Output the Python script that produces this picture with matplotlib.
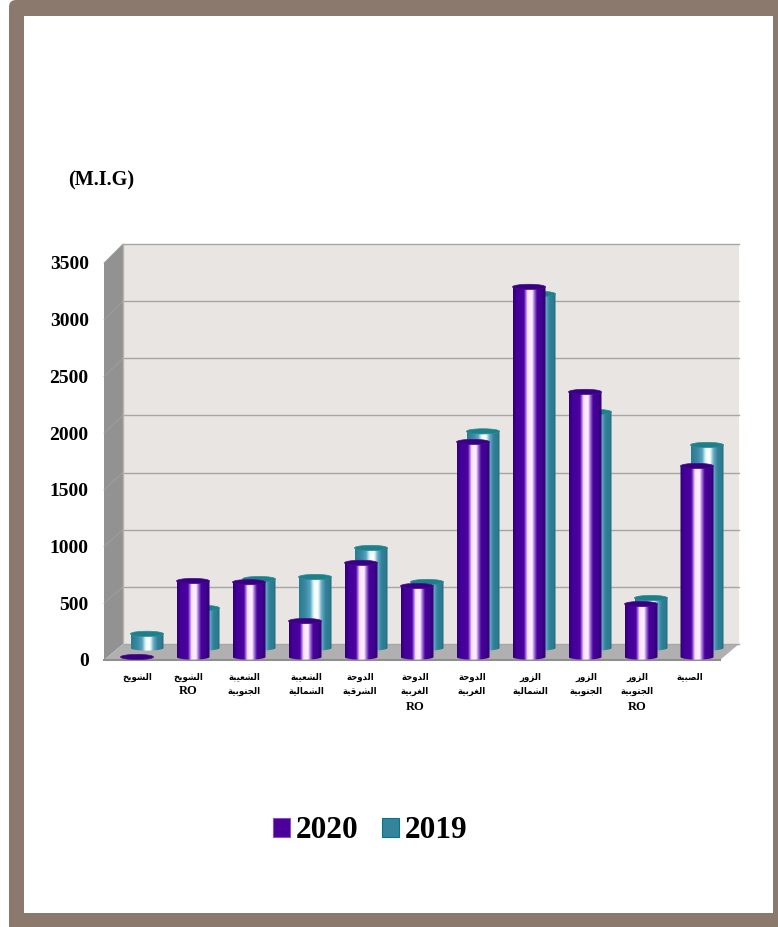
import numpy as np
import matplotlib
matplotlib.use("Agg")
import matplotlib.pyplot as plt
from matplotlib.colors import LinearSegmentedColormap
from matplotlib.patches import Ellipse, FancyBboxPatch, PathPatch, Patch, Polygon, Rectangle
from matplotlib.path import Path

plt.rcParams["font.family"] = ["Liberation Serif", "DejaVu Sans"]
plt.rcParams["font.weight"] = "bold"

# data
categories = ["الشويخ", "الشويخ\nRO", "الشعيبة\nالجنوبية", "الشعيبة\nالشمالية",
              "الدوحة\nالشرقية", "الدوحة\nالغربية\nRO", "الدوحة\nالغربية", "الزور\nالشمالية",
              "الزور\nالجنوبية", "الزور\nالجنوبية\nRO", "الصبية"]
values_2020 = [0, 670, 660, 317, 830, 626, 1896, 3263, 2337, 467, 1684]
values_2019 = [125, 353, 608, 626, 882, 582, 1910, 3122, 2081, 441, 1790]
y_ticks = [0, 500, 1000, 1500, 2000, 2500, 3000, 3500]

# letter: first presentation form, number of forms
FORMS = {"ا": (0xFE8D, 2), "ب": (0xFE8F, 4), "ة": (0xFE93, 2), "ج": (0xFE9D, 4), "ح": (0xFEA1, 4),
         "خ": (0xFEA5, 4), "د": (0xFEA9, 2), "ر": (0xFEAD, 2), "ز": (0xFEAF, 2), "ش": (0xFEB5, 4),
         "ص": (0xFEB9, 4), "ع": (0xFEC9, 4), "غ": (0xFECD, 4), "ق": (0xFED5, 4), "ل": (0xFEDD, 4),
         "م": (0xFEE1, 4), "ن": (0xFEE5, 4), "و": (0xFEED, 2), "ي": (0xFEF1, 4)}


def shape_line(line):
    if line[0] not in FORMS:
        return line
    out = []
    for i, ch in enumerate(line):
        code, n = FORMS[ch]
        joins_prev = i > 0 and FORMS[line[i - 1]][1] == 4
        joins_next = i < len(line) - 1 and n == 4
        if joins_prev and joins_next:
            out.append(chr(code + 3))
        elif joins_next:
            out.append(chr(code + 2))
        elif joins_prev:
            out.append(chr(code + 1))
        else:
            out.append(chr(code))
    return "".join(reversed(out))


W, H = 778, 927
PX_X = 1 / 56.0        # one pixel in category units
PX_Y = 3500 / 397.0    # one pixel in value units

cmap_2020 = LinearSegmentedColormap.from_list("p", [
    (0, "#2f0070"), (0.12, "#43009a"), (0.33, "#4c00a0"), (0.39, "#a070d8"), (0.44, "#f8e0ff"),
    (0.58, "#fff0ff"), (0.65, "#a070d8"), (0.73, "#4a009c"), (0.9, "#3e008c"), (1, "#2f0070")])
cmap_2019 = LinearSegmentedColormap.from_list("t", [
    (0, "#2a7a90"), (0.2, "#3b8aa5"), (0.34, "#5aa5bd"), (0.42, "#c0eaf5"), (0.48, "#ffffff"),
    (0.58, "#f5ffff"), (0.68, "#6aaec5"), (0.8, "#33829c"), (0.93, "#2b7a90"), (1, "#1f6a75")])
gradient = np.linspace(0, 1, 256).reshape(1, -1)

fig = plt.figure(figsize=(W / 100, H / 100), dpi=100)
fig.patch.set_facecolor("white")

# frame
fig.add_artist(FancyBboxPatch((9, -30), W + 40, H + 30, boxstyle="round,pad=0,rounding_size=7",
                              transform=None, facecolor="#8b796d", edgecolor="none"))
fig.add_artist(Rectangle((24, H - 913), 749, 897, transform=None, facecolor="white", edgecolor="none"))

ax = fig.add_axes([104 / W, 1 - 660 / H, 616 / W, 397 / H])
ax.patch.set_visible(False)
for s in ax.spines.values():
    s.set_visible(False)

x0, x1 = -0.5, 10.5
y_top = y_ticks[-1]
dx, dy = 19 * PX_X, 16 * PX_Y


def back(v):
    # back wall is drawn a bit taller than the axis itself
    return v * 400 / 397 + dy


# walls
ax.add_patch(Polygon([(x0 + dx, back(0)), (x1 + dx, back(0)), (x1 + dx, back(y_top)), (x0 + dx, back(y_top))],
                     facecolor="#e8e5e2", edgecolor="none", clip_on=False, zorder=1))
ax.add_patch(Polygon([(x0, 0), (x0, y_top), (x0 + dx, back(y_top)), (x0 + dx, back(0))],
                     facecolor="#929292", edgecolor="none", clip_on=False, zorder=1))
ax.add_patch(Polygon([(x0, 0), (x1, 0), (x1 + dx, back(0)), (x0 + dx, back(0))],
                     facecolor="#b0b0b0", edgecolor="none", clip_on=False, zorder=1))
ax.plot([x0, x1], [0, 0], color="#8f8f8f", lw=1.5, clip_on=False, zorder=1.5)
for t in y_ticks:
    ax.plot([x0 + dx, x1 + dx], [back(t), back(t)], color="#a8a6a3", lw=1.0, clip_on=False, zorder=1.5)
    if t > 0:
        ax.plot([x0, x0 + dx], [t, back(t)], color="#a0a0a0", lw=0.6, clip_on=False, zorder=1.5)
ax.plot([x0 + dx, x0 + dx], [back(0), back(y_top)], color="#b5b5b5", lw=1, clip_on=False, zorder=1.5)


def cylinder(x, base, value, cmap, top_color, edge_color, z):
    half = 16.5 * PX_X
    eh = 2.6 * PX_Y
    top = base + value
    t = np.linspace(np.pi, 2 * np.pi, 40)
    xs = np.concatenate([x + half * np.cos(t), [x + half, x - half, x - half]])
    ys = np.concatenate([base + eh * np.sin(t), [top, top, base]])
    if value > 0:
        clip = PathPatch(Path(np.column_stack([xs, ys]), closed=False), transform=ax.transData,
                         facecolor="none", edgecolor="none")
        ax.add_patch(clip)
        im = ax.imshow(gradient, cmap=cmap, extent=(x - half, x + half, base - eh, top),
                       aspect="auto", zorder=z, interpolation="bilinear")
        im.set_clip_path(clip)
        im.set_clip_box(fig.bbox)
    ax.add_patch(Ellipse((x, top), 2 * half, 2 * eh, facecolor=top_color, edgecolor=edge_color,
                         lw=0.5, zorder=z + 0.1, clip_on=False))


offset_2020 = 5 * PX_X
base_2020 = 3 * PX_Y
offset_2019 = 15 * PX_X
base_2019 = 12 * PX_Y
for i, v in enumerate(values_2019):
    cylinder(i + offset_2019, base_2019, v, cmap_2019, "#1f7f88", "#2a8c96", 2 + i * 0.01)
for i, v in enumerate(values_2020):
    cylinder(i + offset_2020, base_2020, v, cmap_2020, "#37007e", "#4a0a96", 3 + i * 0.01)

ax.set_xlim(x0, x1)
ax.set_ylim(0, y_top)
ax.set_yticks(y_ticks)
ax.set_yticklabels([str(t) for t in y_ticks], fontsize=14, fontweight="bold")
ax.set_xticks(range(len(categories)))
ax.set_xticklabels([])
ax.tick_params(axis="y", length=0, pad=11)
ax.tick_params(axis="x", length=0)
ax.set_zorder(2)

# category labels, latin lines are set bigger than the arabic ones
label_nudge = [5, 0, 0, 6, 4, 3, 4, 6, 6, 1, -2]
line_y = [677, 691, 707]
for i, label in enumerate(categories):
    for row, line in enumerate(label.split("\n")):
        ax.annotate(shape_line(line), xy=(i, 0), xycoords=("data", "axes fraction"),
                    xytext=(label_nudge[i] * 0.72, -(line_y[row] - 660) * 0.72), textcoords="offset points",
                    ha="center", va="center", fontsize=6.2 if line[0] in FORMS else 9, fontweight="bold",
                    annotation_clip=False)

fig.text(68 / W, 1 - 180 / H, "(M.I.G)", fontsize=14.6, fontweight="bold", va="center", ha="left")

handles = [Patch(facecolor="#4b0099", edgecolor="#8a50c8", lw=0.8, label="2020"),
           Patch(facecolor="#33849c", edgecolor="#007a80", lw=0.8, label="2019")]
fig.legend(handles=handles, loc="center", bbox_to_anchor=(370 / W, 1 - 831 / H), ncol=2, frameon=False,
           prop={"size": 22.5, "weight": "bold"}, handlelength=0.56, handleheight=0.56,
           handletextpad=0.17, columnspacing=0.75, borderpad=0, borderaxespad=0)

fig.savefig("out.png", dpi=100)
